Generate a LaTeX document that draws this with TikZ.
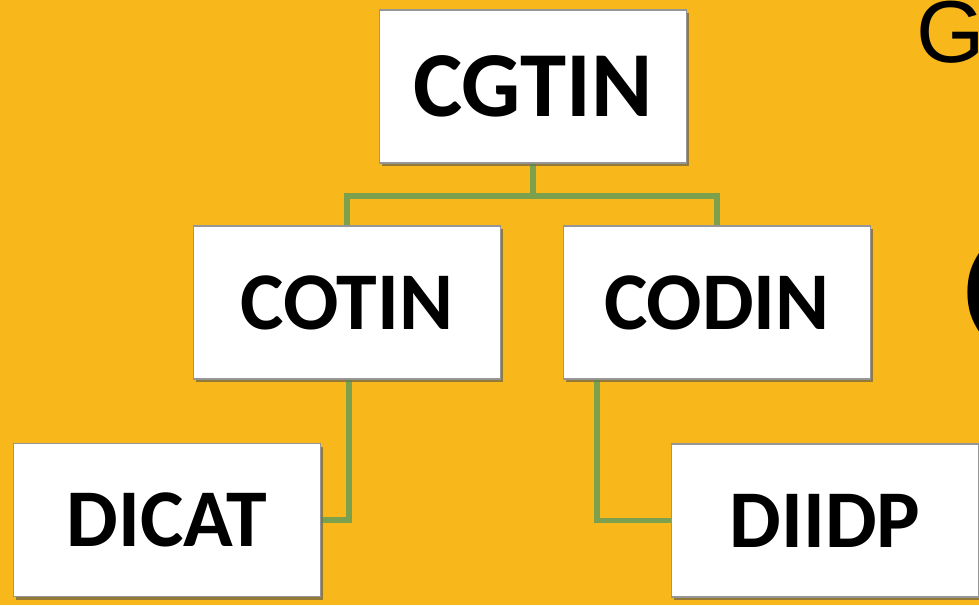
\documentclass[tikz,border=0pt]{standalone}
\usepackage{fontspec}
\setmainfont{Carlito}
\newfontfamily\arialfont{Liberation Sans}
\usetikzlibrary{shadows}
\definecolor{bggold}{RGB}{248,184,28}
\definecolor{conngreen}{RGB}{124,160,78}
\definecolor{boxedge}{RGB}{150,150,150}
\tikzset{
  orgbox/.style={rectangle, draw=boxedge, line width=1.2pt, fill=white,
    minimum width=307pt, minimum height=153pt, inner sep=0pt,
    font=\bfseries\fontsize{82}{90}\selectfont,
    drop shadow={shadow xshift=2pt, shadow yshift=-3pt, opacity=0.35, fill=black!70}},
  topbox/.style={orgbox, font=\bfseries\fontsize{93}{100}\selectfont},
  conn/.style={draw=conngreen, line width=5.5pt, line cap=butt, line join=miter},
  cutletter/.style={inner sep=0pt, anchor=base west, font=\arialfont\fontsize{88}{96}\selectfont}
}
\begin{document}
\begin{tikzpicture}[x=1pt,y=-1pt]
\useasboundingbox (0,0) rectangle (979,605);
\fill[bggold] (0,0) rectangle (979,605);
\clip (0,0) rectangle (979,605);
% node positions (drawn first so connectors can refer to them)
\node[topbox] (cgtin) at (533,86.5) {CGTIN};
\node[orgbox] (cotin) at (347,302.5) {COTIN};
\node[orgbox] (codin) at (717,302.5) {CODIN};
\node[orgbox] (dicat) at (167,520) {DICAT};
\node[orgbox] (diidp) at (825,520.5) {DIIDP};
\coordinate (junc) at (533,196);
% connectors
\draw[conn] (cgtin.south) -- (junc);
\draw[conn] ([xshift=-2.75pt]cotin.north |- junc) -- ([xshift=2.75pt]codin.north |- junc);
\draw[conn] (junc -| cotin.north) -- (cotin.north);
\draw[conn] (junc -| codin.north) -- (codin.north);
\draw[conn] ([xshift=2pt]cotin.south) |- (dicat.east);
\draw[conn] ([xshift=-120pt]codin.south) |- (diidp.west);
% boxes again on top of connectors
\node[topbox] at (cgtin) {CGTIN};
\node[orgbox] at (cotin) {COTIN};
\node[orgbox] at (codin) {CODIN};
\node[orgbox] at (dicat) {DICAT};
\node[orgbox] at (diidp) {DIIDP};
% text cut off at the right edge
\node[cutletter] (gcut) at (916,62) {G};
\node[cutletter, font=\arialfont\bfseries\fontsize{88}{96}\selectfont] (pcut) at (963,315) {(};
\end{tikzpicture}
\end{document}
